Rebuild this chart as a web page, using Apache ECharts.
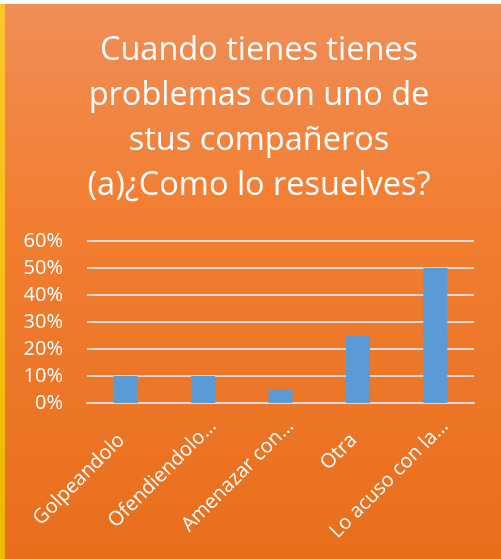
<!DOCTYPE html>
<html>
<head>
<meta charset="utf-8">
<script src="https://cdn.jsdelivr.net/npm/echarts@6/dist/echarts.min.js"></script>
<style>
html,body{margin:0;padding:0;background:#fff;}
#main{width:501px;height:559px;}
</style>
</head>
<body>
<div id="main"></div>
<script>
var titleText = 'Cuando tienes tienes\nproblemas con uno de\nstus compañeros\n(a)¿Como lo resuelves?';
var categories = ['Golpeandolo', 'Ofendiendolo…', 'Amenazar con…', 'Otra', 'Lo acuso con la…'];
var values = [0.10, 0.10, 0.05, 0.25, 0.50];

var chart = echarts.init(document.getElementById('main'));
chart.setOption({
  animation: false,
  backgroundColor: '#ffffff',
  graphic: [
    {type:'rect', shape:{x:5,y:4,width:496,height:555}, z:-10, silent:true,
     style:{fill:{type:'linear',x:0,y:0,x2:0,y2:1,colorStops:[{offset:0,color:'#F08E58'},{offset:0.35,color:'#F27F34'},{offset:1,color:'#E86E1C'}]}}},
    {type:'rect', shape:{x:0,y:4,width:5,height:555}, z:-10, silent:true,
     style:{fill:{type:'linear',x:0,y:0,x2:0,y2:1,colorStops:[{offset:0,color:'#FFC62C'},{offset:1,color:'#EDB800'}]}}}
  ],
  title: {
    text: titleText,
    left: 254, textAlign: 'center',
    top: 23,
    textStyle: {color:'#ffffff', fontFamily:'Open Sans', fontWeight:'normal', fontSize:32.5, lineHeight:45}
  },
  grid: [
    {left:87, right:27, top:241, bottom:156},
    {left:97, right:17, top:241, bottom:156}
  ],
  xAxis: [{
    type:'category', data: categories, gridIndex:0,
    axisTick:{show:false},
    axisLine:{lineStyle:{color:'#D9D9D9', width:2}},
    axisLabel:{show:false}
  }, {
    type:'category', data: categories, gridIndex:1,
    axisTick:{show:false}, axisLine:{show:false}, splitLine:{show:false},
    axisLabel:{color:'#ffffff', fontFamily:'Open Sans', fontSize:20, rotate:45, interval:0, margin:20,
      formatter:function(v){ return v.indexOf('…') >= 0 ? '{e|' + v + '}' : '{p|' + v + '}'; },
      rich:{
        e:{color:'#ffffff', fontFamily:'Open Sans', fontSize:20},
        p:{color:'#ffffff', fontFamily:'Open Sans', fontSize:20, padding:[0,20,0,0]}
      }}
  }],
  yAxis: [{
    type:'value', min:0, max:0.6, interval:0.1, gridIndex:0,
    axisLine:{show:false}, axisTick:{show:false},
    splitLine:{lineStyle:{color:'#D9D9D9', width:2}},
    axisLabel:{color:'#ffffff', fontFamily:'Open Sans', fontSize:20, margin:24,
      formatter:function(v){ return Math.round(v*100) + '%'; }}
  }, {
    type:'value', min:0, max:0.6, gridIndex:1, show:false
  }],
  series: [{
    type:'bar', data: values, barWidth:'31%', xAxisIndex:0, yAxisIndex:0,
    itemStyle:{color:'#5B9BD5'}
  }]
});
</script>
</body>
</html>
